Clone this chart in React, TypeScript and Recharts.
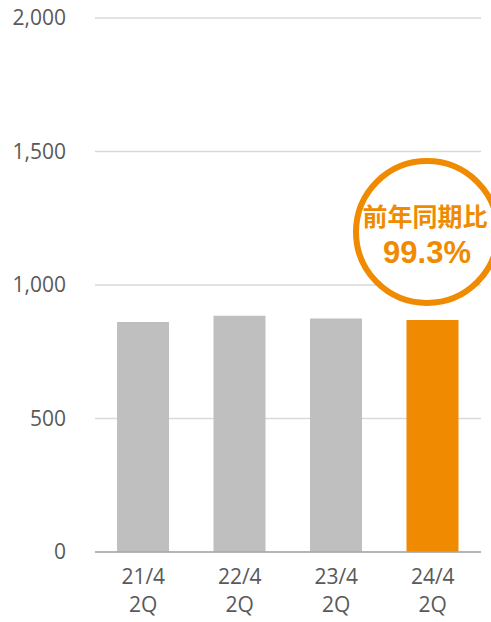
import { BarChart, Bar, XAxis, YAxis, CartesianGrid, Cell, LabelList } from 'recharts';

const periods = ['21/4\n2Q', '22/4\n2Q', '23/4\n2Q', '24/4\n2Q'];
const values = [861, 885, 875, 869];
const yTicks = [0, 500, 1000, 1500, 2000];
const badgeTitle = '前年同期比';
const badgeValue = '99.3%';

const ORANGE = '#F08A00';
const GRAY_BAR = '#BFBFBF';
const TEXT = '#595959';

const data = periods.map((p, i) => ({ period: p, value: values[i] }));

const PeriodTick = (props: any) => {
  const { x, y, payload } = props;
  const lines = String(payload.value).split('\n');
  return (
    <g>
      {lines.map((line, i) => (
        <text
          key={i}
          x={x}
          y={y + 24 + i * 27.5}
          textAnchor="middle"
          fill={TEXT}
          fontSize={21}
          fontFamily="'Open Sans', sans-serif"
        >
          {line}
        </text>
      ))}
    </g>
  );
};

// 前年同期比 badge drawn above the latest bar
const renderBadge = (props: any) => {
  const { x, y, width, index } = props;
  if (index !== values.length - 1) return null;
  const cx = x + width / 2 - 5.5;
  const cy = y - 88;
  return (
    <g>
      <circle cx={cx} cy={cy} r={71} fill="#fff" stroke={ORANGE} strokeWidth={6} />
      <text
        x={cx - 2}
        y={cy - 17}
        textAnchor="middle"
        dominantBaseline="central"
        fill={ORANGE}
        fontSize={25}
        fontWeight="bold"
        fontFamily="'Noto Sans CJK JP', sans-serif"
      >
        {badgeTitle}
      </text>
      <text
        x={cx}
        y={cy + 31}
        textAnchor="middle"
        fill={ORANGE}
        fontSize={31}
        fontWeight="bold"
        fontFamily="'Liberation Sans', Arial, sans-serif"
      >
        {badgeValue}
      </text>
    </g>
  );
};

export default function App() {
  return (
    <div style={{ position: 'absolute', left: 0, top: 0, background: '#fff' }}>
      <BarChart
        width={491}
        height={622}
        data={data}
        margin={{ top: 18, right: 10, left: 0, bottom: 0 }}
      >
        <CartesianGrid vertical={false} stroke="#D9D9D9" strokeWidth={1.5} />
        <XAxis
          dataKey="period"
          height={70}
          tickLine={false}
          axisLine={{ stroke: '#A6A6A6', strokeWidth: 1.5 }}
          tick={<PeriodTick />}
          interval={0}
        />
        <YAxis
          domain={[0, 2000]}
          ticks={yTicks}
          width={95}
          axisLine={false}
          tickLine={false}
          tickMargin={23}
          tick={{ fill: TEXT, fontSize: 21, fontFamily: "'Open Sans', sans-serif" }}
          tickFormatter={(v: number) => v.toLocaleString('en-US')}
        />
        <Bar dataKey="value" barSize={52} isAnimationActive={false}>
          {data.map((_, i) => (
            <Cell key={i} fill={i === data.length - 1 ? ORANGE : GRAY_BAR} />
          ))}
          <LabelList dataKey="value" content={renderBadge} />
        </Bar>
      </BarChart>
    </div>
  );
}
